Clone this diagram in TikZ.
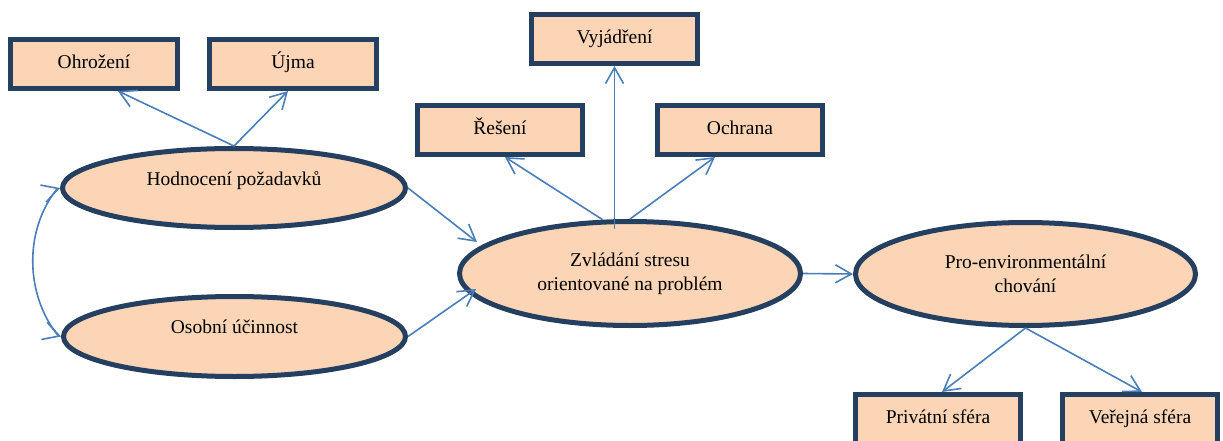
\documentclass[tikz,border=0pt]{standalone}
\usepackage{fontspec}
\setmainfont{Liberation Serif}
\usetikzlibrary{arrows.meta,shapes.geometric,calc}
\definecolor{peach}{HTML}{FBD5B5}
\definecolor{navy}{HTML}{243F60}
\definecolor{linkblue}{HTML}{4A7EBB}
\tikzset{barb/.tip={Straight Barb[length=16pt,width=18pt]}}
\begin{document}
\begin{tikzpicture}[x=1pt,y=-1pt,
  font=\fontsize{19.5}{24}\selectfont,
  box/.style={draw=navy,line width=5pt,fill=peach,rectangle,minimum height=49pt,
    inner sep=0pt,text height=13pt,text depth=4pt},
  oval/.style={draw=navy,line width=5pt,fill=peach,ellipse,inner sep=0pt,align=center},
  oneline/.style={text height=5pt,text depth=11pt},
  conn/.style={draw=linkblue,line width=1.6pt,-barb},
]
\useasboundingbox (0,0) rectangle (1223,441);
\clip (0,0) rectangle (1223,441);

% rectangular outcome boxes
\node[box,minimum width=167pt] (ohr) at (94,64)     {Ohrožení};
\node[box,minimum width=167pt] (ujm) at (293,64)    {Újma};
\node[box,minimum width=166pt] (vyj) at (614.5,39)  {Vyjádření};
\node[box,minimum width=165pt] (res) at (500,130)   {Řešení};
\node[box,minimum width=165pt] (och) at (740,130)   {Ochrana};
\node[box,minimum width=165pt] (pri) at (938,419)   {Privátní sféra};
\node[box,minimum width=155pt] (ver) at (1140,419)  {Veřejná sféra};

% elliptical constructs
\node[oval,oneline,minimum width=343pt,minimum height=79pt] (hod) at (234,188)   {Hodnocení požadavků};
\node[oval,oneline,minimum width=342pt,minimum height=80pt] (oso) at (234.5,336.5) {Osobní účinnost};
\node[oval,minimum width=341pt,minimum height=104pt] (zvl) at (630,273.5) {Zvládání stresu\\orientované na problém};
\node[oval,minimum width=340pt,minimum height=103pt] (pro) at (1025.5,274) {Pro-environmentální\\chování};

% connectors
\draw[conn] (hod.north) -- ([xshift=24pt]ohr.south);
\draw[conn] (hod.north) -- ([xshift=-5pt]ujm.south);
\draw[conn,barb-barb] (hod.west) -- ([shift={(-3,1)}]hod.west)
  .. controls +(-33,41) and +(-33,-41) .. ([shift={(-3,-1)}]oso.west) -- (oso.west);
\draw[conn] (hod.east) -- ([shift={(-153,-31.5)}]zvl.center);
\draw[conn] (oso.east) -- ([shift={(-154,15.5)}]zvl.center);
\draw[conn] (zvl.117) -- ([xshift=5pt]res.south);
\draw[conn] ($(vyj.south |- zvl.north)+(0,10)$) -- (vyj.south);
\draw[conn] (zvl.north) -- ([xshift=-25pt]och.south);
\draw[conn] (zvl.east) -- (pro.west);
\draw[conn] (pro.south) -- ([xshift=4pt]pri.north);
\draw[conn] (pro.south) -- ([xshift=2pt]ver.north);
\end{tikzpicture}
\end{document}
